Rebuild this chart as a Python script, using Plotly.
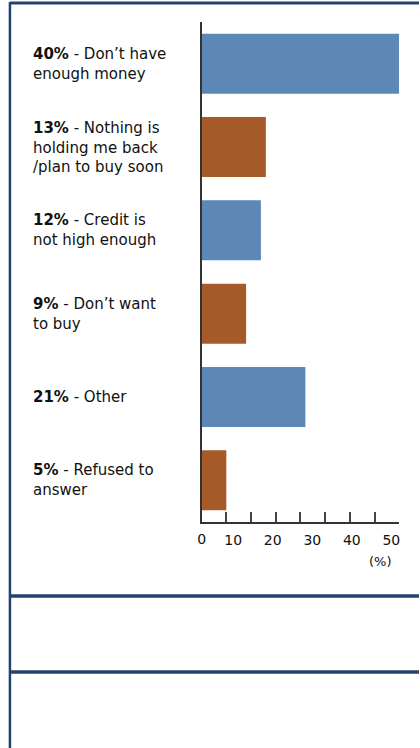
import plotly.graph_objects as go

# ---- data ----
categories = ["Don’t have enough money", "Nothing is holding me back/plan to buy soon",
              "Credit is not high enough", "Don’t want to buy", "Other", "Refused to answer"]
values = [40, 13, 12, 9, 21, 5]
label_lines = [
    ["Don’t have", "enough money"],
    ["Nothing is", "holding me back", "/plan to buy soon"],
    ["Credit is", "not high enough"],
    ["Don’t want", "to buy"],
    ["Other"],
    ["Refused to", "answer"],
]
bar_colors = ["#5d88b6", "#a65a28", "#5d88b6", "#a65a28", "#5d88b6", "#a65a28"]
tick_labels = ["0", "10", "20", "30", "40", "50"]
unit_label = "(%)"

W, H = 420, 748
def px_x(p): return p / W
def px_y(p): return 1 - p / H

fig = go.Figure()
fig.add_trace(go.Bar(
    x=values, y=categories, orientation="h",
    marker=dict(color=bar_colors, line=dict(width=0)),
    hoverinfo="x+y", showlegend=False,
))
# invisible trace on secondary x axis so its tick labels render
fig.add_trace(go.Scatter(x=[10, 50], y=[categories[0], categories[0]], xaxis="x2",
                         mode="markers", marker=dict(opacity=0), hoverinfo="skip",
                         showlegend=False))

font_family = "DejaVu Sans, Verdana, sans-serif"

fig.update_layout(
    width=W, height=H,
    margin=dict(l=0, r=0, t=0, b=0),
    paper_bgcolor="white", plot_bgcolor="white",
    bargap=0.28,
    font=dict(family=font_family, color="#111"),
    xaxis=dict(
        domain=[px_x(200), px_x(400)],
        range=[0, 40], showgrid=False, zeroline=False,
        showline=True, linecolor="#333", linewidth=1.5,
        ticks="inside", ticklen=10, tickwidth=1.5, tickcolor="#444",
        tickvals=list(range(0, 41, 5)),
        ticktext=[tick_labels[0]] + [""] * 8,
        tickfont=dict(size=14, color="#111"),
        ticklabelstandoff=3,
        fixedrange=True,
    ),
    xaxis2=dict(
        domain=[px_x(200), px_x(400)],
        overlaying="x", anchor="y", side="bottom",
        range=[2, 52], showgrid=False, zeroline=False, showline=False,
        ticks="", tickvals=[float(t) for t in tick_labels[1:]],
        ticktext=tick_labels[1:],
        tickfont=dict(size=14, color="#111"),
        ticklabelstandoff=8,
        fixedrange=True,
    ),
    yaxis=dict(
        domain=[px_y(522), px_y(22)],
        autorange="reversed", showgrid=False, zeroline=False,
        showline=True, linecolor="#333", linewidth=1.5,
        showticklabels=False, ticks="",
        fixedrange=True,
    ),
)

annotations = []
for cat, v, lines in zip(categories, values, label_lines):
    text = f"<b>{v}%</b> - " + "<br>".join(lines)
    annotations.append(dict(
        x=px_x(27), xref="paper", y=cat, yref="y",
        text=text, showarrow=False, xanchor="left", yanchor="middle",
        align="left", font=dict(size=15, color="#111", family=font_family),
    ))
annotations.append(dict(
    x=px_x(381), xref="paper", y=px_y(561), yref="paper",
    text=unit_label, showarrow=False, xanchor="center", yanchor="middle",
    font=dict(size=13, color="#111", family=font_family),
))
fig.update_layout(annotations=annotations)

navy = "#23436c"
shapes = [
    dict(type="line", xref="paper", yref="paper", x0=px_x(6), x1=1, y0=px_y(3), y1=px_y(3),
         line=dict(color=navy, width=3)),
    dict(type="line", xref="paper", yref="paper", x0=px_x(6), x1=px_x(6), y0=px_y(2), y1=0,
         line=dict(color=navy, width=2.5)),
    dict(type="line", xref="paper", yref="paper", x0=px_x(6), x1=1, y0=px_y(596), y1=px_y(596),
         line=dict(color=navy, width=3.5)),
    dict(type="line", xref="paper", yref="paper", x0=px_x(6), x1=1, y0=px_y(672), y1=px_y(672),
         line=dict(color=navy, width=3.5)),
]
fig.update_layout(shapes=shapes)

fig.write_html("out.html", config={"displayModeBar": False})
